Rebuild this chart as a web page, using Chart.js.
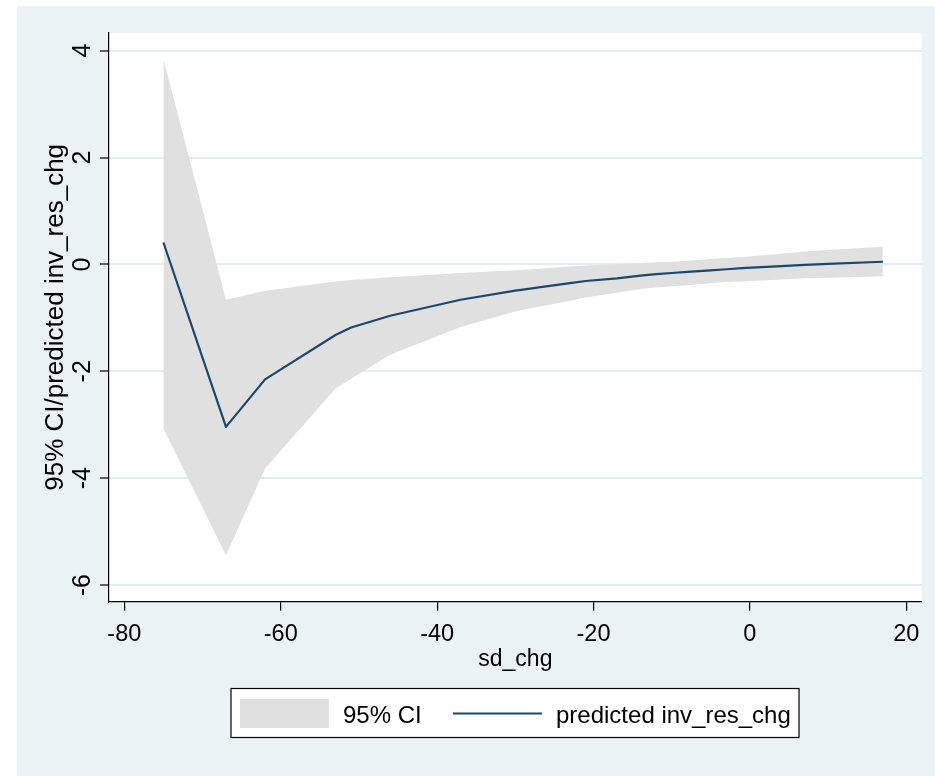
<!DOCTYPE html>
<html>
<head>
<meta charset="utf-8">
<script src="https://cdn.jsdelivr.net/npm/chart.js@4.4.1/dist/chart.umd.min.js"></script>
<style>
  html, body { margin: 0; padding: 0; background: #fff; }
  canvas { display: block; }
</style>
</head>
<body>
<canvas id="fitChart" width="935" height="776"></canvas>
<script>
const sdChg     = [-75, -67, -62, -53, -51, -46, -37, -30, -29, -27, -23, -21, -17, -14, -12, -10, -8, -5, -3, -1, 4, 7, 10, 17];
const predicted = [0.41, -3.04, -2.15, -1.32, -1.18, -0.96, -0.66, -0.49, -0.47, -0.43, -0.35, -0.31, -0.26, -0.21, -0.18, -0.16, -0.14, -0.11, -0.09, -0.07, -0.03, -0.01, 0.01, 0.05];
const ciUpper   = [3.85, -0.66, -0.49, -0.32, -0.29, -0.24, -0.16, -0.11, -0.10, -0.08, -0.04, -0.02, 0.01, 0.02, 0.04, 0.05, 0.07, 0.10, 0.12, 0.14, 0.20, 0.24, 0.27, 0.33];
const ciLower   = [-3.07, -5.44, -3.82, -2.32, -2.14, -1.69, -1.17, -0.88, -0.85, -0.79, -0.68, -0.62, -0.53, -0.46, -0.43, -0.41, -0.39, -0.35, -0.33, -0.32, -0.28, -0.26, -0.25, -0.22];

const xTicks = [-80, -60, -40, -20, 0, 20];
const yTicks = [-6, -4, -2, 0, 2, 4];

const ciLabel = '95% CI';
const fitLabel = 'predicted inv_res_chg';
const xTitle = 'sd_chg';
const yTitle = '95% CI/predicted inv_res_chg';

const FONT = '"Liberation Sans", Arial, sans-serif';
Chart.defaults.font.family = FONT;
Chart.defaults.color = '#000';

const toPoints = ys => sdChg.map((x, i) => ({ x: x, y: ys[i] }));

// graph region (light blue) + white plot region
const panelBackground = {
  id: 'panelBackground',
  beforeDraw(chart) {
    const { ctx, chartArea: a, width, height } = chart;
    ctx.save();
    ctx.fillStyle = '#ffffff';
    ctx.fillRect(0, 0, width, height);
    ctx.fillStyle = '#EAF2F3';
    ctx.fillRect(17, 6, width - 17, height - 6);
    ctx.fillStyle = '#ffffff';
    ctx.fillRect(a.left, a.top, a.right - a.left, a.bottom - a.top);
    ctx.restore();
  }
};

// y tick labels are drawn turned on their side
const sidewaysYTicks = {
  id: 'sidewaysYTicks',
  afterDraw(chart) {
    const scale = chart.scales.y;
    const ctx = chart.ctx;
    ctx.save();
    ctx.font = '25px ' + FONT;
    ctx.fillStyle = '#000';
    ctx.textAlign = 'center';
    ctx.textBaseline = 'alphabetic';
    scale.ticks.forEach(t => {
      ctx.save();
      ctx.translate(scale.right - 19, scale.getPixelForValue(t.value));
      ctx.rotate(-Math.PI / 2);
      ctx.fillText(t.label, 0, 0);
      ctx.restore();
    });
    ctx.restore();
  }
};

// framed legend under the axis title
const boxedLegend = {
  id: 'boxedLegend',
  afterDraw(chart) {
    const ctx = chart.ctx;
    const fit = chart.data.datasets[0];
    const band = chart.data.datasets[1];
    ctx.save();
    ctx.fillStyle = '#ffffff';
    ctx.fillRect(231, 688.5, 568, 49);
    ctx.strokeStyle = '#000';
    ctx.lineWidth = 1.2;
    ctx.strokeRect(231, 688.5, 568, 49);

    ctx.fillStyle = band.backgroundColor;
    ctx.fillRect(240, 699, 89, 29);

    ctx.strokeStyle = fit.borderColor;
    ctx.lineWidth = fit.borderWidth;
    ctx.beginPath();
    ctx.moveTo(453, 713.5);
    ctx.lineTo(542, 713.5);
    ctx.stroke();

    ctx.fillStyle = '#000';
    ctx.font = '24px ' + FONT;
    ctx.textBaseline = 'alphabetic';
    ctx.fillText(band.label, 343, 723.3);
    ctx.fillText(fit.label, 556, 723.3);
    ctx.restore();
  }
};

new Chart(document.getElementById('fitChart'), {
  type: 'line',
  data: {
    datasets: [
      {
        label: fitLabel,
        data: toPoints(predicted),
        borderColor: '#1A476F',
        borderWidth: 2.2,
        borderJoinStyle: 'round',
        pointRadius: 0,
        tension: 0,
        fill: false
      },
      {
        label: ciLabel,
        data: toPoints(ciUpper),
        borderColor: 'transparent',
        borderWidth: 0,
        backgroundColor: '#E0E0E0',
        pointRadius: 0,
        tension: 0,
        fill: '+1'
      },
      {
        label: 'lower',
        data: toPoints(ciLower),
        borderColor: 'transparent',
        borderWidth: 0,
        pointRadius: 0,
        tension: 0,
        fill: false
      }
    ]
  },
  options: {
    responsive: false,
    animation: false,
    devicePixelRatio: 1,
    layout: { padding: { top: 33, right: 13.3, bottom: 0, left: 0 } },
    plugins: {
      legend: { display: false },
      tooltip: { enabled: false }
    },
    scales: {
      x: {
        type: 'linear',
        min: -81.96,
        max: 21.97,
        afterBuildTicks: s => { s.ticks = xTicks.map(v => ({ value: v })); },
        afterFit: s => { s.height = 174.3; },
        grid: { drawOnChartArea: false, drawTicks: true, tickLength: 9, color: '#000', lineWidth: 1.2 },
        border: { display: true, color: '#000', width: 1.2 },
        ticks: { color: '#000', font: { size: 23.5 }, padding: 9.4, maxRotation: 0, autoSkip: false },
        title: { display: true, text: xTitle, color: '#000', font: { size: 23 }, padding: { top: 0, bottom: 102.9 } }
      },
      y: {
        type: 'linear',
        min: -6.31,
        max: 4.33,
        afterBuildTicks: s => { s.ticks = yTicks.map(v => ({ value: v })); },
        afterFit: s => { s.width = 109; },
        grid: {
          drawOnChartArea: true, color: '#E4EDF0', lineWidth: 2,
          drawTicks: true, tickLength: 9, tickColor: '#000', tickWidth: 1.2
        },
        border: { display: true, color: '#000', width: 1.2 },
        ticks: { display: false },
        title: { display: true, text: yTitle, color: '#000', font: { size: 26 }, padding: { top: 40, bottom: 0 } }
      }
    }
  },
  plugins: [panelBackground, sidewaysYTicks, boxedLegend]
});
</script>
</body>
</html>
